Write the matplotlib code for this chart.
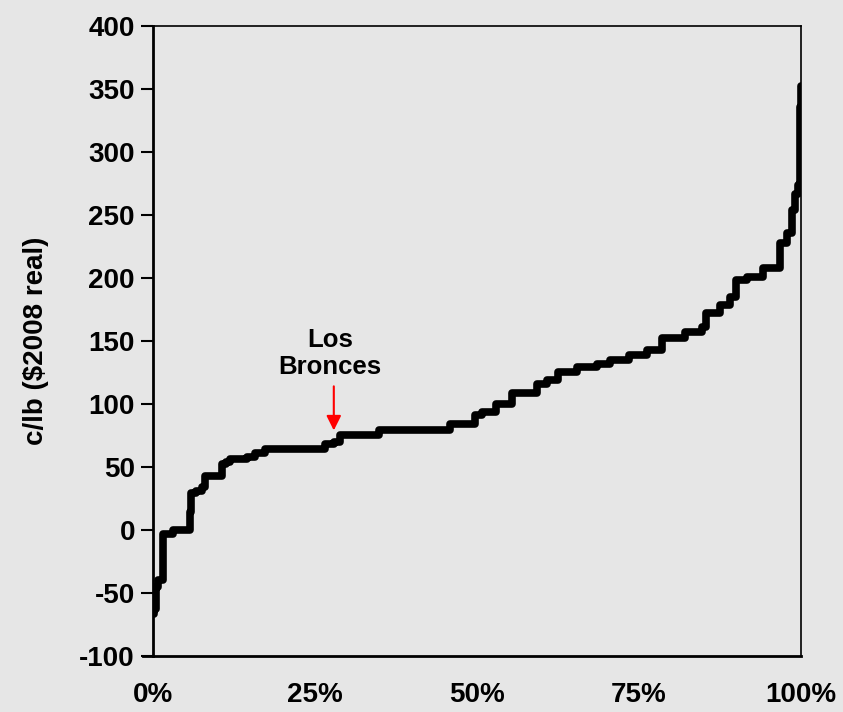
import matplotlib
matplotlib.use("Agg")
import matplotlib.pyplot as plt

# cumulative share of production (%) and cash cost (c/lb, $2008 real)
cum_pct = [0, 0.2, 0.4, 0.8, 1.5, 3.1, 5.7, 5.9, 6.7, 7.5, 8.0, 10.6, 11.2,
           11.9, 14.5, 15.7, 17.3, 26.5, 28.0, 28.9, 34.8, 45.8, 49.7, 50.7,
           53.0, 55.4, 59.2, 60.8, 62.5, 65.4, 68.5, 70.5, 73.4, 76.2, 78.5,
           82.1, 84.7, 85.4, 87.5, 89.0, 90.0, 91.6, 94.2, 96.8, 97.8, 98.6,
           99.1, 99.6, 99.8, 100]
cost = [-67, -63, -45, -40, -3, 0, 14, 29, 31, 34, 43, 52, 54,
        56, 58, 61, 64, 68, 70, 75, 79.5, 84, 91, 94,
        100, 108.5, 116, 119, 125.5, 129.5, 132, 135, 139, 143, 152,
        157, 161, 172, 178.5, 185, 198, 201, 208, 228, 236, 254,
        267, 274, 336, 352]

x_ticks = [0, 25, 50, 75, 100]
x_labels = ["0%", "25%", "50%", "75%", "100%"]
y_ticks = list(range(-100, 401, 50))

annot_x = 27.9
annot_label = "Los\nBronces"

bg = "#e6e6e6"
plt.rcParams["font.family"] = ["Liberation Sans", "DejaVu Sans"]
plt.rcParams["font.weight"] = "bold"
plt.rcParams["axes.unicode_minus"] = False

fig = plt.figure(figsize=(8.43, 7.12), dpi=100, facecolor=bg)
ax = fig.add_axes([0.1815, 0.0787, 0.7687, 0.8848], facecolor=bg)

ax.step(cum_pct, cost, where="post", color="black", lw=5.5,
        solid_joinstyle="round", solid_capstyle="round", zorder=3)

ax.set_xlim(0, 100)
ax.set_ylim(-100, 400)
ax.set_xticks(x_ticks)
ax.set_xticklabels(x_labels)
ax.set_yticks(y_ticks)
ax.tick_params(axis="x", length=0, pad=19, labelsize=20)
ax.tick_params(axis="y", length=9, width=1.5, pad=4, labelsize=20)
for lab in ax.get_xticklabels() + ax.get_yticklabels():
    lab.set_fontweight("bold")

for side in ["top", "right"]:
    ax.spines[side].set_linewidth(1.2)
for side in ["left", "bottom"]:
    ax.spines[side].set_linewidth(2)
ax.spines["bottom"].set_bounds(-1.6, 100)
ax.spines["bottom"].set_clip_on(False)

ax.set_ylabel("c/lb ($2008 real)", fontsize=20, fontweight="bold", labelpad=22)

ax.annotate("", xy=(annot_x, 79), xytext=(annot_x, 114),
            arrowprops=dict(arrowstyle="-|>", color="red", lw=1.5,
                            mutation_scale=22, shrinkA=0, shrinkB=0))
ax.text(27.3, 120, annot_label, ha="center", va="bottom", fontsize=18.5,
        fontweight="bold", linespacing=1.15)

fig.savefig("out.png", dpi=100, facecolor=bg)
